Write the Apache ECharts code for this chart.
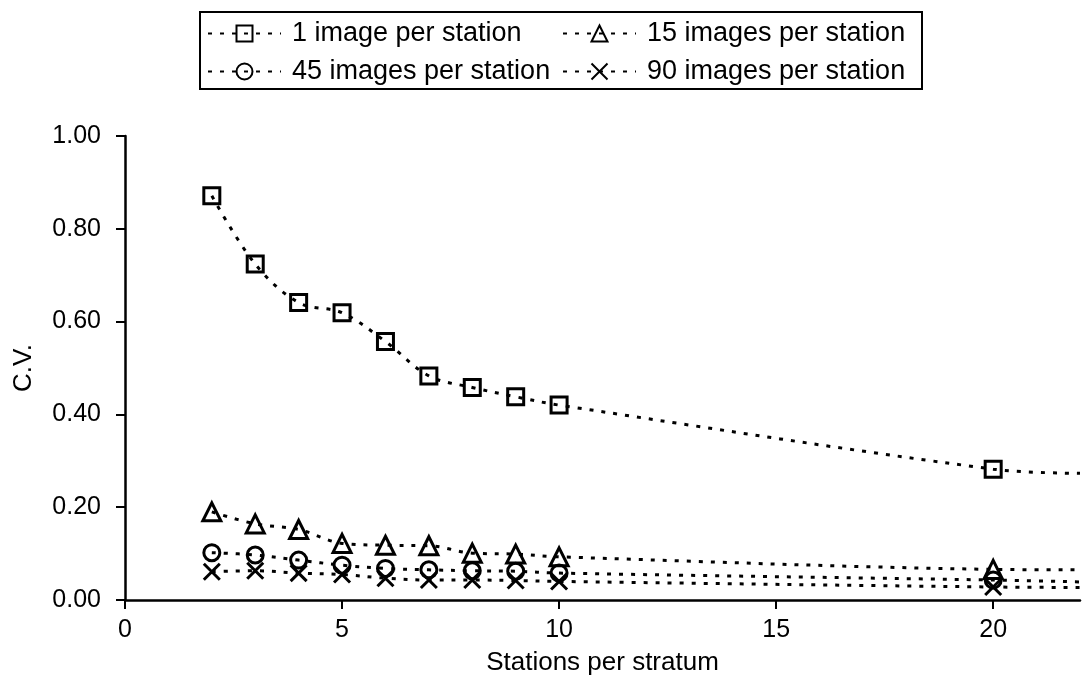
<!DOCTYPE html>
<html>
<head>
<meta charset="utf-8">
<script src="https://cdn.jsdelivr.net/npm/echarts@6/dist/echarts.min.js"></script>
<style>
html,body{margin:0;padding:0;background:#fff;}
#chart{width:1091px;height:682px;}
</style>
</head>
<body>
<div id="chart"></div>
<script>
// Data
const stations = [2, 3, 4, 5, 6, 7, 8, 9, 10, 20];
const cv1img  = [0.871, 0.724, 0.641, 0.619, 0.557, 0.483, 0.458, 0.438, 0.420, 0.282];
const cv15img = [0.190, 0.164, 0.152, 0.122, 0.118, 0.117, 0.101, 0.099, 0.093, 0.066];
const cv45img = [0.102, 0.097, 0.086, 0.075, 0.068, 0.065, 0.063, 0.062, 0.058, 0.043];
const cv90img = [0.061, 0.063, 0.058, 0.055, 0.047, 0.043, 0.043, 0.042, 0.040, 0.028];
// where each dotted line leaves the plot at its right edge
const edgeX = 22;
const edgeCV = [0.273, 0.065, 0.039, 0.027];
const seriesNames = ['1 image per station', '15 images per station', '45 images per station', '90 images per station'];
const xTicks = [0, 5, 10, 15, 20];
const yTicks = [0.00, 0.20, 0.40, 0.60, 0.80, 1.00];

const FONT = 'Liberation Sans, Arial, Helvetica, sans-serif';
const symbols = ['rect', 'triangle', 'circle', 'path://M0,0L10,10M10,0L0,10'];
const sizes = [16, 18, 16, 16];
const allValues = [cv1img, cv15img, cv45img, cv90img];

function makeSeries(i) {
  const pts = stations.map((s, k) => [s, allValues[i][k]]);
  pts.push({ value: [edgeX, edgeCV[i]], symbol: 'none' });
  return {
    name: seriesNames[i],
    type: 'line',
    data: pts,
    smooth: 0.35,
    symbol: symbols[i],
    symbolSize: sizes[i],
    showAllSymbol: true,
    lineStyle: { color: '#000', width: 3, type: [4, 8] },
    itemStyle: { color: 'rgba(0,0,0,0)', borderColor: '#000', borderWidth: 3 },
    emphasis: { disabled: true },
    z: 3
  };
}

function makeLegend(i, left, top) {
  return {
    data: [seriesNames[i]],
    left: left, top: top,
    itemWidth: 73, itemHeight: 20,
    itemGap: 0,
    selectedMode: false,
    padding: 0,
    textStyle: { fontFamily: FONT, fontSize: 27, color: '#000', padding: [0, 0, 0, 6] }
  };
}

const chart = echarts.init(document.getElementById('chart'), null, { renderer: 'canvas' });
chart.setOption({
  animation: false,
  backgroundColor: '#fff',
  grid: { left: 125, right: 11, top: 136, bottom: 82, containLabel: false },
  legend: [
    makeLegend(0, 207, 20),
    makeLegend(1, 562, 20),
    makeLegend(2, 207, 58),
    makeLegend(3, 562, 58)
  ],
  graphic: [{
    type: 'rect',
    shape: { x: 200, y: 12, width: 722, height: 77 },
    style: { fill: 'none', stroke: '#000', lineWidth: 2 },
    silent: true
  }],
  xAxis: {
    type: 'value',
    min: 0, max: 22, interval: 5,
    name: 'Stations per stratum',
    nameLocation: 'middle',
    nameGap: 50,
    nameTextStyle: { fontFamily: FONT, fontSize: 26, color: '#000' },
    axisLine: { show: true, onZero: false, lineStyle: { color: '#000', width: 2.5 } },
    axisTick: { show: true, inside: false, length: 9, lineStyle: { color: '#000', width: 2 } },
    axisLabel: {
      fontFamily: FONT, fontSize: 25, color: '#000', margin: 18,
      showMaxLabel: false,
      formatter: v => (xTicks.indexOf(v) >= 0 ? String(v) : '')
    },
    splitLine: { show: false }
  },
  yAxis: {
    type: 'value',
    min: 0, max: 1, interval: 0.2,
    name: 'C.V.',
    nameLocation: 'middle',
    nameGap: 88,
    nameRotate: 90,
    nameTextStyle: { fontFamily: FONT, fontSize: 26, color: '#000' },
    axisLine: { show: true, lineStyle: { color: '#000', width: 2.5 } },
    axisTick: { show: true, inside: false, length: 9, lineStyle: { color: '#000', width: 2 } },
    axisLabel: {
      fontFamily: FONT, fontSize: 25, color: '#000', margin: 24,
      formatter: v => v.toFixed(2)
    },
    splitLine: { show: false }
  },
  series: [0, 1, 2, 3].map(makeSeries)
});
</script>
</body>
</html>
